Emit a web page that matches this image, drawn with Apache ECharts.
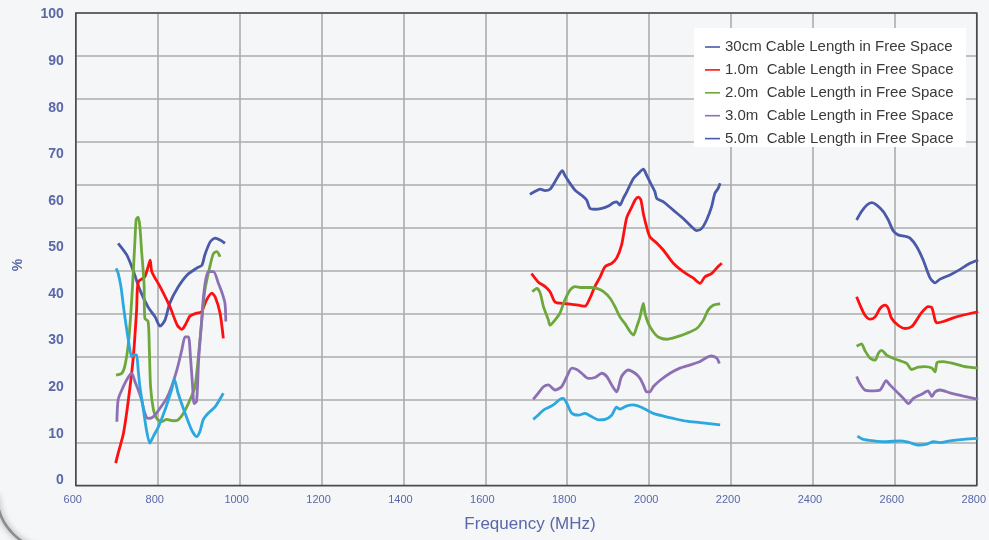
<!DOCTYPE html>
<html>
<head>
<meta charset="utf-8">
<script src="https://cdn.jsdelivr.net/npm/echarts@6/dist/echarts.min.js"></script>
<style>
html,body{margin:0;padding:0;background:#f4f6f7;}
#chart{width:989px;height:540px;}
</style>
</head>
<body>
<div id="chart"></div>
<script>
// ---- tick labels ----
var xTicks = [600, 800, 1000, 1200, 1400, 1600, 1800, 2000, 2200, 2400, 2600, 2800];
var yTicks = [0, 10, 20, 30, 40, 50, 60, 70, 80, 90, 100];

// ---- series names ----
var names = [
  '30cm Cable Length in Free Space',
  '1.0m  Cable Length in Free Space',
  '2.0m  Cable Length in Free Space',
  '3.0m  Cable Length in Free Space',
  '5.0m  Cable Length in Free Space'
];

// ---- 30cm ----
var cable30_low = [[703,50.9],[724,48.4],[739,45.2],[756,40.9],[776,37.2],[793,35.1],[805,33.1],[817,34.4],[829,38.1],[849,41.5],[871,44.1],[895,45.6],[907,46.2],[914,48.4],[927,51.2],[939,52.0],[951,51.6],[963,50.9]];
var cable30_mid = [[1705,61.4],[1717,62.0],[1730,62.5],[1742,62.2],[1754,62.5],[1766,64.1],[1778,65.9],[1784,66.5],[1790,65.5],[1803,63.7],[1815,62.3],[1831,61.2],[1843,60.2],[1851,58.4],[1863,58.2],[1880,58.4],[1896,58.9],[1908,59.6],[1916,59.8],[1924,59.1],[1932,60.5],[1941,62.0],[1957,64.8],[1969,65.9],[1981,66.8],[1989,65.5],[2001,63.4],[2009,62.0],[2014,60.5],[2030,59.8],[2054,58.0],[2078,56.2],[2099,54.4],[2111,53.6],[2123,54.1],[2135,55.9],[2147,58.7],[2155,61.6],[2163,62.7],[2168,63.8]];
var cable30_high = [[2500,55.9],[2512,57.7],[2525,59.1],[2537,59.6],[2549,59.1],[2565,57.7],[2577,55.9],[2589,53.6],[2601,52.7],[2618,52.4],[2630,52.0],[2646,50.2],[2662,47.3],[2679,43.4],[2691,42.4],[2703,43.2],[2727,44.1],[2752,45.3],[2776,46.6],[2796,47.3]];

// ---- 1.0m ----
var cable1_low = [[697,3.7],[703,5.8],[716,10.1],[728,17.3],[740,26.5],[748,36.6],[752,42.6],[768,43.7],[776,45.9],[781,47.3],[785,44.8],[805,41.6],[829,37.3],[847,33.3],[858,32.4],[866,33.3],[878,35.3],[894,35.9],[906,36.2],[918,38.7],[931,40.2],[939,39.4],[951,35.9],[959,30.5]];
var cable1_mid = [[1709,44.4],[1725,42.6],[1742,41.6],[1754,40.5],[1766,38.3],[1782,38.0],[1807,37.8],[1823,37.6],[1839,37.4],[1851,39.1],[1863,41.6],[1876,43.7],[1888,45.9],[1904,46.6],[1916,47.7],[1928,50.5],[1936,54.4],[1941,56.5],[1953,58.7],[1961,60.2],[1969,60.8],[1975,60.2],[1981,57.3],[1989,54.4],[1997,52.3],[2014,50.9],[2030,49.4],[2054,46.6],[2078,44.8],[2103,43.4],[2119,42.3],[2131,43.7],[2147,44.4],[2163,45.9],[2172,46.6]];
var cable1_high = [[2500,39.4],[2508,37.7],[2520,35.5],[2533,34.6],[2545,35.1],[2557,36.9],[2569,37.6],[2577,36.9],[2585,34.8],[2601,33.3],[2618,32.6],[2634,33.0],[2646,34.4],[2658,36.0],[2674,37.3],[2683,37.1],[2691,34.4],[2695,33.8],[2711,34.1],[2735,34.9],[2760,35.5],[2796,36.2]];

// ---- 2.0m ----
var cable2_low = [[698,22.6],[712,23.0],[720,24.8],[728,29.4],[736,38.7],[744,51.6],[747,56.0],[752,56.5],[756,54.4],[760,49.4],[766,42.3],[768,34.8],[776,34.1],[779,28.0],[782,20.1],[789,15.1],[797,13.3],[809,12.6],[821,13.1],[837,12.8],[849,13.0],[862,14.4],[878,17.3],[890,20.1],[902,30.0],[914,40.8],[927,46.2],[935,48.7],[943,49.1],[951,48.0]];
var cable2_mid = [[1711,40.5],[1722,41.2],[1730,40.2],[1738,37.3],[1750,34.4],[1754,33.3],[1766,34.4],[1778,35.9],[1790,38.7],[1803,40.9],[1815,41.6],[1831,41.4],[1851,41.4],[1868,41.2],[1884,40.5],[1900,39.1],[1912,37.3],[1924,35.1],[1936,33.7],[1949,31.9],[1957,31.2],[1965,33.0],[1973,35.1],[1981,38.0],[1985,35.9],[1993,33.7],[2005,31.9],[2017,30.8],[2038,30.3],[2062,30.8],[2087,31.6],[2111,32.6],[2127,34.4],[2139,36.6],[2151,37.6],[2168,37.9]];
var cable2_high = [[2500,28.8],[2512,29.3],[2520,27.9],[2533,26.2],[2545,25.8],[2553,27.3],[2561,27.9],[2573,26.9],[2589,26.2],[2605,25.7],[2622,25.1],[2634,23.8],[2650,24.3],[2666,24.4],[2683,24.1],[2691,23.3],[2696,25.3],[2711,25.5],[2735,25.1],[2760,24.5],[2796,24.1]];

// ---- 3.0m ----
var cable3_low = [[700,12.6],[703,17.3],[712,19.4],[724,21.6],[736,23.0],[744,21.2],[752,19.4],[760,17.3],[768,14.4],[776,13.3],[789,13.7],[805,15.5],[821,17.6],[833,20.1],[846,23.7],[858,28.0],[866,30.8],[874,30.8],[879,26.5],[884,20.5],[888,16.5],[894,17.0],[899,26.0],[906,34.0],[912,40.5],[922,44.8],[935,44.8],[947,42.3],[955,40.5],[963,38.0],[965,34.1]];
var cable3_mid = [[1713,17.4],[1725,18.7],[1738,20.1],[1750,20.5],[1766,19.4],[1782,20.1],[1795,22.3],[1807,24.1],[1819,23.8],[1831,23.0],[1847,21.9],[1863,22.1],[1880,23.0],[1892,22.3],[1904,20.5],[1916,19.0],[1928,22.3],[1944,23.7],[1961,23.0],[1973,21.9],[1981,20.5],[1989,19.0],[1997,19.0],[2005,20.1],[2022,21.5],[2046,23.0],[2070,24.1],[2095,24.8],[2119,25.5],[2135,26.4],[2147,26.7],[2160,26.2],[2166,25.1]];
var cable3_high = [[2500,22.3],[2508,20.8],[2520,19.4],[2537,19.2],[2557,19.4],[2572,21.4],[2581,20.5],[2598,19.0],[2614,17.6],[2626,16.5],[2638,17.6],[2658,18.5],[2674,19.2],[2683,18.0],[2691,19.0],[2703,19.4],[2727,18.8],[2760,18.1],[2796,17.4]];

// ---- 5.0m ----
var cable5_low = [[698,45.5],[703,44.5],[710,41.5],[716,37.3],[722,33.5],[728,30.1],[736,26.5],[742,27.0],[748,26.9],[752,23.5],[756,20.1],[764,15.5],[772,10.8],[780,8.0],[789,9.5],[801,11.5],[817,15.1],[833,19.4],[840,21.6],[849,18.7],[866,14.4],[882,10.8],[894,9.4],[902,10.5],[910,13.0],[922,14.4],[939,15.8],[959,18.7]];
var cable5_mid = [[1713,13.1],[1725,14.0],[1738,15.1],[1754,15.8],[1766,16.5],[1778,17.4],[1786,17.6],[1795,16.5],[1807,14.4],[1823,14.0],[1839,14.4],[1855,13.7],[1872,13.0],[1888,13.1],[1904,14.0],[1916,15.7],[1924,15.3],[1941,16.0],[1957,16.2],[1973,15.8],[1989,15.1],[2005,14.4],[2030,13.8],[2054,13.3],[2087,12.7],[2119,12.4],[2168,11.9]];
var cable5_high = [[2502,9.5],[2516,8.8],[2541,8.5],[2573,8.3],[2605,8.5],[2626,8.2],[2650,7.6],[2671,7.8],[2687,8.3],[2703,8.1],[2727,8.5],[2760,8.8],[2796,9.0]];

var colors = ['#4a5aa8', '#ff1010', '#6ea83a', '#8d70b3', '#2ba8e0'];
var legendColors = ['#4a5aa8', '#ff1010', '#6ea83a', '#8d70b3', '#4a5aa8'];
var segments = [
  [cable30_low, cable30_mid, cable30_high],
  [cable1_low, cable1_mid, cable1_high],
  [cable2_low, cable2_mid, cable2_high],
  [cable3_low, cable3_mid, cable3_high],
  [cable5_low, cable5_mid, cable5_high]
];

var series = [];
segments.forEach(function (segs, i) {
  segs.forEach(function (d) {
    series.push({
      name: names[i], type: 'line', data: d,
      xAxisIndex: 0, yAxisIndex: 0,
      symbol: 'none', smooth: 0.25,
      lineStyle: { color: colors[i], width: 2.8 },
      itemStyle: { color: colors[i] },
      z: 3
    });
  });
});

var labelColor = '#5a67a8';
var chart = echarts.init(document.getElementById('chart'));
chart.setOption({
  animation: false,
  backgroundColor: '#f4f6f7',
  grid: [
    { left: 75.8, right: 9.1, top: 14.5, bottom: 59.6, show: false },
    { left: 75.8, right: 9.1, top: 13, bottom: 54.5, show: true, borderColor: '#4a4a4a', borderWidth: 1.6, backgroundColor: 'transparent', z: 1 }
  ],
  xAxis: [
    { type: 'value', gridIndex: 0, min: xTicks[0], max: xTicks[xTicks.length - 1], interval: 200, show: false },
    { type: 'value', gridIndex: 1, min: xTicks[0], max: xTicks[xTicks.length - 1], interval: 200,
      axisLine: { show: false }, axisTick: { show: false },
      axisLabel: { color: labelColor, fontSize: 11, fontFamily: 'Liberation Sans', margin: 9, padding: [0, 6, 0, 0],
        formatter: function (v) { return String(v); } },
      splitLine: { show: true, lineStyle: { color: '#adadad', width: 1.6 } } }
  ],
  yAxis: [
    { type: 'value', gridIndex: 0, min: yTicks[0], max: yTicks[yTicks.length - 1], interval: 10,
      axisLine: { show: false }, axisTick: { show: false }, splitLine: { show: false },
      axisLabel: { color: labelColor, fontSize: 14, fontWeight: 'bold', fontFamily: 'Liberation Sans', margin: 12,
        formatter: function (v) { return String(v); } } },
    { type: 'value', gridIndex: 1, min: 0, max: 11, interval: 1,
      axisLine: { show: false }, axisTick: { show: false }, axisLabel: { show: false },
      splitLine: { show: true, lineStyle: { color: '#adadad', width: 1.6 } } }
  ],
  legend: {
    orient: 'vertical', left: 705, top: 39.5, padding: 0, itemGap: 7.9,
    itemWidth: 15, itemHeight: 14, z: 10,
    icon: 'path://M0,0H15V1.6H0Z',
    textStyle: { color: '#3a3a3a', fontSize: 15, fontFamily: 'Liberation Sans' },
    data: names.map(function (n, i) {
      return { name: n, itemStyle: { color: legendColors[i] } };
    })
  },
  graphic: [
    { type: 'arc', shape: { cx: 52, cy: 495, r: 55, startAngle: Math.PI / 2, endAngle: Math.PI },
      style: { stroke: '#8c8c8c', lineWidth: 2.5, fill: null, shadowBlur: 6, shadowColor: 'rgba(0,0,0,0.45)' }, z: 1 },
    { type: 'rect', shape: { x: 694, y: 28, width: 272, height: 119 }, style: { fill: '#ffffff' }, z: 5 },
    { type: 'text', x: 18, y: 265, rotation: Math.PI / 2,
      style: { text: '%', fontSize: 14, fontWeight: 'bold', fontFamily: 'Liberation Sans', fill: labelColor, align: 'center', verticalAlign: 'middle' }, z: 5 },
    { type: 'text', x: 530, y: 524,
      style: { text: 'Frequency (MHz)', fontSize: 17, fontFamily: 'Liberation Sans', fill: labelColor, align: 'center', verticalAlign: 'middle' }, z: 5 }
  ],
  series: series
});
</script>
</body>
</html>
